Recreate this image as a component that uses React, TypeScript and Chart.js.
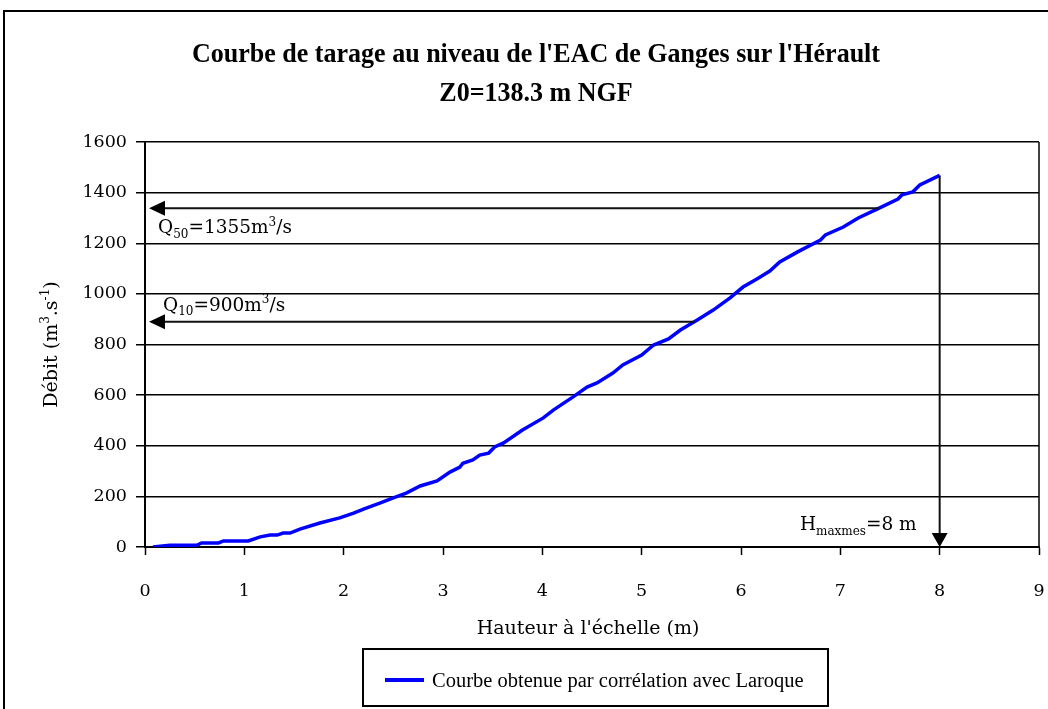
import React, { useEffect, useRef } from "react";
import { Chart, registerables } from "chart.js";

Chart.register(...registerables);

// ---- Data ----
const heights = [
  0.08, 0.25, 0.52, 0.57, 0.74, 0.79, 1.04, 1.16, 1.26, 1.33, 1.39, 1.46, 1.56, 1.76, 1.96,
  2.1, 2.2, 2.37, 2.5, 2.63, 2.77, 2.94, 3.07, 3.17, 3.2, 3.3, 3.37, 3.46, 3.52, 3.61, 3.8,
  4.01, 4.11, 4.31, 4.45, 4.55, 4.71, 4.81, 5.0, 5.12, 5.27, 5.39, 5.56, 5.72, 5.89, 6.02,
  6.16, 6.29, 6.39, 6.57, 6.8, 6.85, 7.03, 7.18, 7.37, 7.58, 7.62, 7.73, 7.8, 8.0,
];
const flows = [
  0, 7, 7, 16, 16, 24, 24, 40, 47, 47, 55, 55, 71, 95, 115,
  134, 150, 174, 194, 213, 241, 261, 296, 316, 331, 344, 363, 371, 395, 411, 462,
  510, 541, 593, 632, 648, 687, 719, 758, 798, 822, 857, 897, 936, 984, 1027,
  1059, 1090, 1126, 1166, 1213, 1233, 1264, 1300, 1335, 1375, 1391, 1403, 1430, 1468,
];

const titleLines = ["Courbe de tarage au niveau de l'EAC de Ganges sur l'Hérault", "Z0=138.3 m NGF"];
const seriesLabel = "Courbe obtenue par corrélation avec Laroque";
const xAxisTitle = "Hauteur à l'échelle (m)";
const xMin = 0, xMax = 9, xStep = 1;
const yMin = 0, yMax = 1600, yStep = 200;

// annotation levels (drawn where they appear on the picture)
const q50Level = 1338;
const q10Level = 890;
const hMax = 8;
const hMaxTop = 1468;

type Seg = { t: string; k?: "sub" | "sup" };
const q50Label: Seg[] = [{ t: "Q" }, { t: "50", k: "sub" }, { t: "=1355m" }, { t: "3", k: "sup" }, { t: "/s" }];
const q10Label: Seg[] = [{ t: "Q" }, { t: "10", k: "sub" }, { t: "=900m" }, { t: "3", k: "sup" }, { t: "/s" }];
const hLabel: Seg[] = [{ t: "H" }, { t: "maxmes", k: "sub" }, { t: "=8 m" }];
const yTitle: Seg[] = [{ t: "Débit (m" }, { t: "3", k: "sup" }, { t: ".s" }, { t: "-1", k: "sup" }, { t: ")" }];

const SERIF = '"DejaVu Serif", serif';
const TIMES = '"Liberation Serif", serif';

function xAtFlow(q: number): number {
  for (let i = 1; i < flows.length; i++) {
    if (flows[i] >= q) {
      const f = (q - flows[i - 1]) / (flows[i] - flows[i - 1] || 1);
      return heights[i - 1] + f * (heights[i] - heights[i - 1]);
    }
  }
  return heights[heights.length - 1];
}

function drawRich(ctx: CanvasRenderingContext2D, segs: Seg[], x: number, y: number, size: number, family: string, align: "left" | "center" | "right" = "left") {
  const fontFor = (k?: string) => `${k ? Math.round(size * 0.65) : size}px ${family}`;
  let total = 0;
  for (const s of segs) {
    ctx.font = fontFor(s.k);
    total += ctx.measureText(s.t).width;
  }
  let cx = align === "center" ? x - total / 2 : align === "right" ? x - total : x;
  ctx.textAlign = "left";
  ctx.textBaseline = "alphabetic";
  for (const s of segs) {
    ctx.font = fontFor(s.k);
    const dy = s.k === "sub" ? size * 0.25 : s.k === "sup" ? -size * 0.42 : 0;
    ctx.fillText(s.t, cx, y + dy);
    cx += ctx.measureText(s.t).width;
  }
}

function arrowHead(ctx: CanvasRenderingContext2D, tipX: number, tipY: number, dir: "left" | "down", len: number, half: number) {
  ctx.beginPath();
  if (dir === "left") {
    ctx.moveTo(tipX, tipY);
    ctx.lineTo(tipX + len, tipY - half);
    ctx.lineTo(tipX + len, tipY + half);
  } else {
    ctx.moveTo(tipX, tipY);
    ctx.lineTo(tipX - half, tipY - len);
    ctx.lineTo(tipX + half, tipY - len);
  }
  ctx.closePath();
  ctx.fill();
}

const decorPlugin = {
  id: "decor",
  afterDraw(chart: any) {
    const ctx: CanvasRenderingContext2D = chart.ctx;
    const { left, right, top, bottom } = chart.chartArea;
    const xs = chart.scales.x;
    const ys = chart.scales.y;
    ctx.save();
    ctx.fillStyle = "#000";
    ctx.strokeStyle = "#000";

    // outer chart border
    ctx.lineWidth = 2;
    ctx.strokeRect(4, 11, 1100, 800);

    // right border of plot area
    ctx.lineWidth = 1.5;
    ctx.beginPath();
    ctx.moveTo(right, top);
    ctx.lineTo(right, bottom);
    ctx.stroke();

    // title (condensed bold)
    ctx.font = `bold 27px ${TIMES}`;
    const w1 = ctx.measureText(titleLines[0]).width;
    const sx = 688 / w1;
    ctx.textAlign = "center";
    ctx.textBaseline = "alphabetic";
    const baselines = [62, 101];
    titleLines.forEach((line, i) => {
      ctx.save();
      ctx.translate(536, baselines[i]);
      ctx.scale(sx, 1);
      ctx.fillText(line, 0, 0);
      ctx.restore();
    });

    // y axis title
    ctx.save();
    ctx.translate(57, (top + bottom) / 2);
    ctx.rotate(-Math.PI / 2);
    drawRich(ctx, yTitle, 0, 0, 19, SERIF, "center");
    ctx.restore();

    // x axis title
    ctx.font = `19px ${SERIF}`;
    ctx.textAlign = "center";
    ctx.fillText(xAxisTitle, (left + right) / 2 - 4, 634);

    // annotations
    ctx.lineWidth = 2;
    ctx.strokeStyle = "#111";
    ctx.fillStyle = "#000";
    const drawH = (level: number) => {
      const y = ys.getPixelForValue(level);
      const x0 = xs.getPixelForValue(xAtFlow(level));
      const tip = left + 4;
      ctx.beginPath();
      ctx.moveTo(x0, y);
      ctx.lineTo(tip + 14, y);
      ctx.stroke();
      arrowHead(ctx, tip, y, "left", 16, 7.5);
      return y;
    };
    const y50 = drawH(q50Level);
    const y10 = drawH(q10Level);
    const vx = xs.getPixelForValue(hMax);
    const vTop = ys.getPixelForValue(hMaxTop);
    ctx.beginPath();
    ctx.moveTo(vx, vTop);
    ctx.lineTo(vx, bottom - 12);
    ctx.stroke();
    arrowHead(ctx, vx, bottom, "down", 14, 8);

    ctx.fillStyle = "#000";
    drawRich(ctx, q50Label, left + 13, y50 + 25, 18.5, SERIF, "left");
    drawRich(ctx, q10Label, left + 18, y10 - 11, 18.5, SERIF, "left");
    drawRich(ctx, hLabel, vx - 23, bottom - 17, 18.5, SERIF, "right");

    // legend
    const ds = chart.data.datasets[0];
    ctx.lineWidth = 2;
    ctx.strokeStyle = "#000";
    ctx.strokeRect(363, 649, 465, 57);
    ctx.strokeStyle = ds.borderColor;
    ctx.lineWidth = 4;
    ctx.beginPath();
    ctx.moveTo(385, 680);
    ctx.lineTo(424, 680);
    ctx.stroke();
    ctx.fillStyle = "#000";
    ctx.font = `20.5px ${TIMES}`;
    ctx.textAlign = "left";
    ctx.textBaseline = "alphabetic";
    ctx.fillText(ds.label, 432, 687);

    ctx.restore();
  },
};

export default function App() {
  const ref = useRef<HTMLCanvasElement>(null);
  useEffect(() => {
    document.body.style.margin = "0";
    const canvas = ref.current!;
    const chart = new Chart(canvas, {
      type: "scatter",
      data: {
        datasets: [
          {
            label: seriesLabel,
            data: heights.map((h, i) => ({ x: h, y: flows[i] })),
            showLine: true,
            borderColor: "#0000FF",
            backgroundColor: "#0000FF",
            borderWidth: 3.5,
            pointRadius: 0,
            tension: 0,
          },
        ],
      },
      options: {
        animation: false,
        responsive: false,
        devicePixelRatio: 1,
        layout: { padding: { top: 142, left: 0, right: 9, bottom: 0 } },
        plugins: { legend: { display: false }, title: { display: false }, tooltip: { enabled: false } },
        scales: {
          x: {
            type: "linear",
            min: xMin,
            max: xMax,
            afterFit: (s: any) => { s.height = 162; s.paddingLeft = 0; s.paddingRight = 0; },
            ticks: { stepSize: xStep, color: "#000", font: { family: SERIF, size: 17.5 }, padding: 26, maxRotation: 0, callback: (v: any) => String(v) },
            grid: { drawOnChartArea: false, drawTicks: true, tickLength: 8, tickColor: "#000", tickWidth: 1.5 },
            border: { display: true, color: "#000", width: 2 },
          },
          y: {
            type: "linear",
            min: yMin,
            max: yMax,
            afterFit: (s: any) => { s.width = 145; s.paddingTop = 0; s.paddingBottom = 0; },
            ticks: { stepSize: yStep, color: "#000", font: { family: SERIF, size: 17.5 }, padding: 9, callback: (v: any) => String(v) },
            grid: { color: "#000", lineWidth: 1.5, drawTicks: true, tickLength: 9, tickColor: "#000" },
            border: { display: true, color: "#000", width: 2 },
          },
        },
      },
      plugins: [decorPlugin],
    });
    return () => chart.destroy();
  }, []);
  return (
    <div style={{ width: 1048, height: 709, background: "#fff" }}>
      <canvas ref={ref} width={1048} height={709} style={{ display: "block" }} />
    </div>
  );
}
